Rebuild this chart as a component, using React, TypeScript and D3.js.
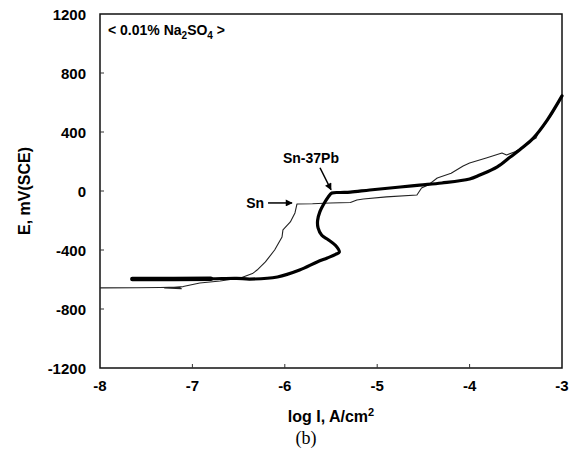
import { useEffect, useRef } from 'react';
import * as d3 from 'd3';

// Sn-37Pb polarisation curve (thick line): log I, E in mV
const pbLogI = [-7.65, -7.2, -6.8, -6.52, -6.38, -6.08, -5.84, -5.65, -5.54, -5.45, -5.41, -5.45, -5.53, -5.6, -5.64, -5.645, -5.62, -5.58, -5.53, -5.49, -5.4, -5.29, -5.08, -4.75, -4.54, -4.3, -4.0, -3.89, -3.7, -3.56, -3.42, -3.31, -3.16, -3.0];
const pbE = [-597, -597, -595, -592, -597, -583, -536, -481, -454, -430, -414, -370, -330, -300, -250, -200, -140, -90, -40, -14, -10, -7, 7, 27, 40, 54, 81, 108, 163, 230, 298, 359, 481, 645];

// pure Sn curve (thin line)
const snLogI = [-8.0, -7.6, -7.35, -7.15, -7.12, -7.3, -7.1, -6.92, -6.7, -6.48, -6.35, -6.3, -6.21, -6.11, -6.03, -6.02, -5.94, -5.89, -5.868, -5.7, -5.51, -5.29, -5.22, -5.15, -4.9, -4.57, -4.52, -4.45, -4.35, -4.2, -4.07, -4.0, -3.82, -3.65, -3.6, -3.5, -3.42, -3.36, -3.28, -3.26, -3.2, -3.1, -3.0];
const snE = [-657, -656, -654, -652, -662, -658, -648, -624, -610, -590, -560, -536, -481, -400, -312, -264, -210, -149, -88, -86, -81, -78, -61, -54, -40, -27, 20, 40, 88, 120, 170, 190, 224, 258, 244, 268, 298, 335, 360, 392, 440, 530, 650];

const xTicks = [-8, -7, -6, -5, -4, -3];
const yTicks = [-1200, -800, -400, 0, 400, 800, 1200];

const W = 575;
const H = 453;
const margin = { top: 14, right: 13, bottom: 85, left: 100 };

const App = () => {
  const svgRef = useRef(null);

  useEffect(() => {
    const svg = d3.select(svgRef.current);
    svg.selectAll('*').remove();

    const x = d3.scaleLinear().domain([-8, -3]).range([margin.left, W - margin.right]);
    const y = d3.scaleLinear().domain([-1200, 1200]).range([H - margin.bottom, margin.top]);

    const font = 'Liberation Sans, Arial, sans-serif';

    svg
      .append('defs')
      .append('marker')
      .attr('id', 'ah')
      .attr('viewBox', '0 0 10 10')
      .attr('refX', 9)
      .attr('refY', 5)
      .attr('markerWidth', 8)
      .attr('markerHeight', 7)
      .attr('markerUnits', 'userSpaceOnUse')
      .attr('orient', 'auto')
      .append('path')
      .attr('d', 'M0,0 L10,5 L0,10 Z')
      .attr('fill', '#000');

    // frame
    svg
      .append('rect')
      .attr('x', x(-8))
      .attr('y', y(1200))
      .attr('width', x(-3) - x(-8))
      .attr('height', y(-1200) - y(1200))
      .attr('fill', 'none')
      .attr('stroke', '#111')
      .attr('stroke-width', 1.5);

    // small inward ticks
    svg
      .append('g')
      .selectAll('line')
      .data(yTicks.slice(1, -1))
      .enter()
      .append('line')
      .attr('x1', x(-8))
      .attr('x2', x(-8) + 4)
      .attr('y1', (d) => y(d))
      .attr('y2', (d) => y(d))
      .attr('stroke', '#333');

    svg
      .append('g')
      .selectAll('line')
      .data(xTicks.slice(1, -1))
      .enter()
      .append('line')
      .attr('x1', (d) => x(d))
      .attr('x2', (d) => x(d))
      .attr('y1', y(-1200))
      .attr('y2', y(-1200) - 4)
      .attr('stroke', '#333');

    // tick labels
    svg
      .append('g')
      .selectAll('text')
      .data(yTicks)
      .enter()
      .append('text')
      .attr('x', x(-8) - 14)
      .attr('y', (d) => y(d) + 5.5)
      .attr('text-anchor', 'end')
      .style('font', `bold 15px ${font}`)
      .text((d) => d);

    svg
      .append('g')
      .selectAll('text')
      .data(xTicks)
      .enter()
      .append('text')
      .attr('x', (d) => x(d))
      .attr('y', y(-1200) + 23)
      .attr('text-anchor', 'middle')
      .style('font', `bold 15px ${font}`)
      .text((d) => d);

    // axis titles
    const xt = svg
      .append('text')
      .attr('x', (x(-8) + x(-3)) / 2)
      .attr('y', 422)
      .attr('text-anchor', 'middle')
      .style('font', `bold 16px ${font}`);
    xt.append('tspan').text('log I, A/cm');
    xt.append('tspan').attr('dy', -6).style('font-size', '11px').text('2');

    svg
      .append('text')
      .attr('transform', `translate(30,${(y(1200) + y(-1200)) / 2}) rotate(-90)`)
      .attr('text-anchor', 'middle')
      .style('font', `bold 16px ${font}`)
      .text('E, mV(SCE)');

    svg
      .append('text')
      .attr('x', 306)
      .attr('y', 444)
      .attr('text-anchor', 'middle')
      .style('font', '18px "Liberation Serif", "Times New Roman", serif')
      .text('(b)');

    // condition label
    const cond = svg
      .append('text')
      .attr('x', x(-8) + 8)
      .attr('y', y(1200) + 21)
      .style('font', `bold 14px ${font}`);
    cond.append('tspan').text('< 0.01% Na');
    cond.append('tspan').attr('dy', 4).style('font-size', '10px').text('2');
    cond.append('tspan').attr('dy', -4).text('SO');
    cond.append('tspan').attr('dy', 4).style('font-size', '10px').text('4');
    cond.append('tspan').attr('dy', -4).text(' >');

    // curves
    const line = d3
      .line<[number, number]>()
      .x((d) => x(d[0]))
      .y((d) => y(d[1]))
      .curve(d3.curveLinear);

    const smooth = d3
      .line<[number, number]>()
      .x((d) => x(d[0]))
      .y((d) => y(d[1]))
      .curve(d3.curveCatmullRom.alpha(0.5));

    const sn = snLogI.map((v, i) => [v, snE[i]] as [number, number]);
    const pb = pbLogI.map((v, i) => [v, pbE[i]] as [number, number]);

    svg
      .append('path')
      .datum(sn)
      .attr('d', line)
      .attr('fill', 'none')
      .attr('stroke', '#222')
      .attr('stroke-width', 1.1)
      .attr('stroke-linejoin', 'round');

    svg
      .append('path')
      .datum(pb)
      .attr('d', smooth)
      .attr('fill', 'none')
      .attr('stroke', '#000')
      .attr('stroke-width', 3.2)
      .attr('stroke-linejoin', 'round')
      .attr('stroke-linecap', 'round');

    // heavier start of the Sn-37Pb trace
    svg
      .append('path')
      .datum(pb.slice(0, 3))
      .attr('d', line)
      .attr('fill', 'none')
      .attr('stroke', '#000')
      .attr('stroke-width', 4.5)
      .attr('stroke-linecap', 'round');

    // annotations
    const pbTip: [number, number] = [-5.5, -5];
    svg
      .append('line')
      .attr('x1', x(pbTip[0]) - 11)
      .attr('y1', y(pbTip[1]) - 24)
      .attr('x2', x(pbTip[0]))
      .attr('y2', y(pbTip[1]) - 2)
      .attr('stroke', '#000')
      .attr('stroke-width', 1.5)
      .attr('marker-end', 'url(#ah)');
    svg
      .append('text')
      .attr('x', x(pbTip[0]) - 20)
      .attr('y', y(pbTip[1]) - 29)
      .attr('text-anchor', 'middle')
      .style('font', `bold 14px ${font}`)
      .text('Sn-37Pb');

    const snTip: [number, number] = [-5.9, -81];
    svg
      .append('line')
      .attr('x1', x(snTip[0]) - 26)
      .attr('y1', y(snTip[1]))
      .attr('x2', x(snTip[0]) - 2)
      .attr('y2', y(snTip[1]))
      .attr('stroke', '#000')
      .attr('stroke-width', 1.5)
      .attr('marker-end', 'url(#ah)');
    svg
      .append('text')
      .attr('x', x(snTip[0]) - 30)
      .attr('y', y(snTip[1]) + 5)
      .attr('text-anchor', 'end')
      .style('font', `bold 14px ${font}`)
      .text('Sn');
  }, []);

  return (
    <svg
      ref={svgRef}
      width={W}
      height={H}
      style={{ position: 'absolute', left: 0, top: 0, background: '#fff' }}
    ></svg>
  );
};

export default App;
